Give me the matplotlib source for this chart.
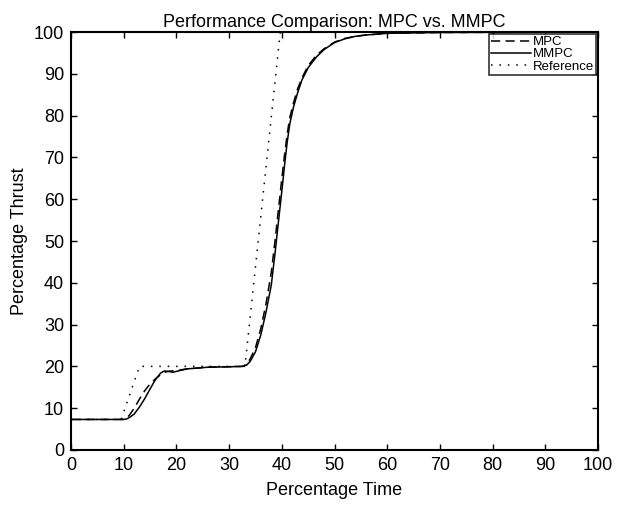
import matplotlib
matplotlib.use("Agg")
import matplotlib.pyplot as plt

plt.rcParams['font.family'] = ['Liberation Sans', 'DejaVu Sans']

# values
ref_x = [0, 9.5, 13.0, 33.0, 39.7, 100]
ref_y = [7.3, 7.3, 20.0, 20.0, 100.0, 100.0]

mmpc_x = [0, 10, 10.5, 11, 12, 13, 14, 15, 16, 17, 17.7, 18.5, 19.3, 20, 21, 22, 24, 26, 30,
          32.5, 33.3, 34, 35, 36, 37, 38, 38.7, 39.3, 40, 40.5, 41, 41.5, 42.2, 43, 43.8, 45,
          46.6, 48, 50, 52, 54, 56, 60, 70, 100]
mmpc_y = [7.3, 7.3, 7.4, 7.7, 8.6, 10.3, 12.3, 14.6, 16.8, 18.4, 18.9, 18.8, 18.6, 18.8, 19.1,
          19.4, 19.6, 19.8, 19.9, 20.0, 20.3, 21.2, 23.5, 27.5, 33.0, 39.5, 47.0, 54.0, 62.0,
          68.0, 73.5, 78.0, 82.0, 85.5, 88.5, 91.5, 94.1, 95.8, 97.5, 98.4, 99.0, 99.3, 99.7,
          99.9, 100.0]

mpc_x = [0, 10, 10.5, 11, 12, 13, 14, 15, 16, 17, 18, 19, 20, 22, 26, 32.5, 33.3, 34, 35, 36,
         37, 38, 38.7, 39.3, 40, 40.5, 41, 41.5, 42.2, 43, 44, 45, 46.6, 48, 50, 52, 54, 56,
         60, 70, 100]
mpc_y = [7.3, 7.3, 7.6, 8.2, 10.0, 12.2, 14.2, 15.8, 17.0, 18.0, 18.7, 18.9, 19.0, 19.4, 19.8,
         20.0, 20.5, 21.8, 24.5, 29.0, 35.0, 42.5, 50.0, 57.0, 65.0, 70.5, 75.5, 79.5, 83.0,
         86.5, 89.5, 92.0, 94.5, 96.0, 97.6, 98.5, 99.0, 99.3, 99.7, 99.9, 100.0]

x_ticks = list(range(0, 101, 10))
y_ticks = list(range(0, 101, 10))

fig = plt.figure(figsize=(6.25, 5.09), dpi=100)
ax = fig.add_axes([0.1136, 0.116, 0.8434, 0.821])

ax.plot(mpc_x, mpc_y, color='black', linewidth=1.1, linestyle=(0, (6, 3.5)), label='MPC')
ax.plot(mmpc_x, mmpc_y, color='black', linewidth=1.1, linestyle='-', label='MMPC')
ax.plot(ref_x, ref_y, color='black', linewidth=1.1, linestyle=(0, (1, 4.5)), label='Reference')

ax.set_xlim(0, 100)
ax.set_ylim(0, 100)
ax.set_xticks(x_ticks)
ax.set_yticks(y_ticks)
ax.tick_params(direction='in', top=True, right=True, length=4, width=1, labelsize=13, pad=5)
for s in ax.spines.values():
    s.set_linewidth(1.5)

ax.set_xlabel('Percentage Time', fontsize=13, labelpad=6)
ax.set_ylabel('Percentage Thrust', fontsize=13, labelpad=4)
ax.set_title('Performance Comparison: MPC vs. MMPC', fontsize=13, pad=4)

leg = ax.legend(loc='upper right', fontsize=9.5, frameon=True, fancybox=False, handlelength=3.0,
                handletextpad=0.15, borderpad=0.15, labelspacing=0.0, borderaxespad=0.15)
leg.get_frame().set_edgecolor('black')
leg.get_frame().set_linewidth(1.2)

fig.savefig('out.png', dpi=100)
